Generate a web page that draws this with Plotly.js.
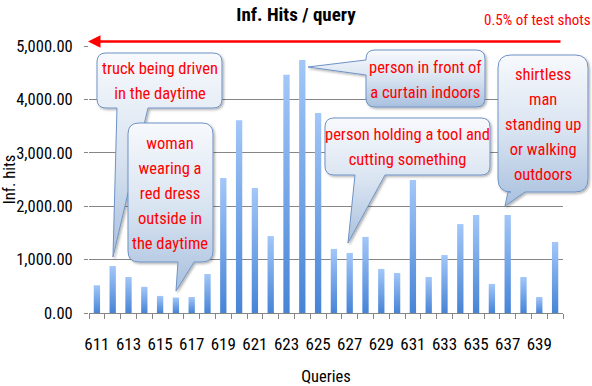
<!DOCTYPE html>
<html>
<head>
<meta charset="utf-8">
<script src="https://cdn.plot.ly/plotly-3.0.1.min.js"></script>
<style>
html,body{margin:0;padding:0;background:#fff;}
#chart{width:592px;height:386px;}
</style>
</head>
<body>
<div id="chart"></div>
<script>
// ---- data ----
const queries = [611,612,613,614,615,616,617,618,619,620,621,622,623,624,625,626,627,628,629,630,631,632,633,634,635,636,637,638,639,640];
const infHits = [520,880,675,490,320,290,300,730,2530,3610,2340,1440,4460,4740,3745,1200,1125,1425,825,750,2490,675,1085,1665,1835,545,1835,675,300,1330];
const xTickVals = [611,613,615,617,619,621,623,625,627,629,631,633,635,637,639];
const xTickText = ['611','613','615','617','619','621','623','625','627','629','631','633','635','637','639'];
const yTickVals = [0,1000,2000,3000,4000,5000];
const calloutTexts = [
  'truck being driven<br>in the daytime',
  'woman<br>wearing a<br>red dress<br>outside in<br>the daytime',
  'person in front of<br>a curtain indoors',
  'person holding a tool and<br>cutting something',
  'shirtless<br>man<br>standing up<br>or walking<br>outdoors'
];
const arrowLabel = '0.5% of test shots';

// ---- layout geometry (pixels) ----
const L = 89, R = 563, T = 46, B = 313;
const W = R - L, H = B - T;
const FONT = '"Roboto Condensed", "Open Sans", sans-serif';
const CALLOUT_SIZE = 16.5;
function px(x){ return (x - L) / W; }
function py(y){ return (B - y) / H; }
function pt(x, y){ return px(x).toFixed(5) + ',' + py(y).toFixed(5); }

function bubble(x0, y0, x1, y1, r, tail){
  let d = 'M' + pt(x0 + r, y0);
  d += ' L' + pt(x1 - r, y0) + ' Q' + pt(x1, y0) + ' ' + pt(x1, y0 + r);
  d += ' L' + pt(x1, y1 - r) + ' Q' + pt(x1, y1) + ' ' + pt(x1 - r, y1);
  if (tail.side === 'bottom'){
    d += ' L' + pt(tail.b, y1) + ' L' + pt(tail.tip[0], tail.tip[1]) + ' L' + pt(tail.a, y1);
  }
  d += ' L' + pt(x0 + r, y1) + ' Q' + pt(x0, y1) + ' ' + pt(x0, y1 - r);
  if (tail.side === 'left'){
    d += ' L' + pt(x0, tail.b) + ' L' + pt(tail.tip[0], tail.tip[1]) + ' L' + pt(x0, tail.a);
  }
  d += ' L' + pt(x0, y0 + r) + ' Q' + pt(x0, y0) + ' ' + pt(x0 + r, y0) + ' Z';
  return d;
}

const bubbles = [
  {box:[97,53,222,108,9],  tail:{side:'bottom', a:117, b:148, tip:[113,257]}, c:[160,81]},
  {box:[128,123,213,262,11], tail:{side:'bottom', a:178, b:194, tip:[176,291]}, c:[170,193]},
  {box:[366,50,485,107,9], tail:{side:'left', a:60, b:75, tip:[308,67]}, c:[425,80]},
  {box:[325,118,490,175,9], tail:{side:'bottom', a:355, b:385, tip:[348,243]}, c:[407,147]},
  {box:[498,55,588,192,13], tail:{side:'bottom', a:508, b:525, tip:[505,206]}, c:[543,124]}
];

const shapes = bubbles.map(b => ({
  type:'path', xref:'paper', yref:'paper', layer:'above',
  path: bubble(b.box[0], b.box[1], b.box[2], b.box[3], b.box[4], b.tail),
  fillcolor:'#c9d8eb', line:{color:'#6f93c5', width:1}
}));

const annotations = bubbles.map((b, i) => ({
  xref:'paper', yref:'paper', x:px(b.c[0]), y:py(b.c[1]),
  xanchor:'center', yanchor:'middle', showarrow:false, align:'center',
  text: calloutTexts[i], font:{family:FONT, size:CALLOUT_SIZE, color:'#ff0000'}
}));

// red arrow
annotations.push({
  xref:'paper', yref:'paper', x:px(88), y:py(41.5), text:'',
  showarrow:true, ax:(562-88), ay:0, arrowhead:2, arrowsize:1, arrowwidth:2.5,
  arrowcolor:'#ff0000', standoff:0, startstandoff:0
});
annotations.push({
  xref:'paper', yref:'paper', x:px(537), y:py(20), xanchor:'center', yanchor:'middle',
  showarrow:false, text:arrowLabel, font:{family:FONT, size:15, color:'#ff0000'}
});

const trace = {
  type:'bar', x:queries, y:infHits,
  marker:{color:'#6fa0e6', line:{width:0}},
  hoverinfo:'x+y'
};

const layout = {
  width:592, height:386,
  margin:{l:L, r:592-R, t:T, b:386-B, pad:0},
  paper_bgcolor:'#ffffff', plot_bgcolor:'#ffffff',
  font:{family:FONT, size:16, color:'#000000'},
  showlegend:false,
  bargap:0.6,
  title:{text:'<b>Inf. Hits / query</b>', x:0.5, xref:'container', xanchor:'center',
         y:1 - 14/386, yref:'container', yanchor:'middle',
         font:{family:FONT, size:19, color:'#000000'}},
  xaxis:{
    type:'linear', range:[610.5, 640.5], fixedrange:true,
    tickmode:'array', tickvals:xTickVals, ticktext:xTickText,
    ticks:'', showgrid:false, zeroline:false,
    showline:true, linecolor:'#868686', linewidth:1,
    tickfont:{family:FONT, size:17, color:'#000000'},
    ticklabelstandoff:16,
    minor:{tick0:610.5, dtick:1, ticks:'outside', ticklen:5, tickcolor:'#868686', tickwidth:1, showgrid:false},
    title:{text:'Queries', font:{family:FONT, size:16.5, color:'#000000'}, standoff:20}
  },
  yaxis:{
    range:[0,5000], fixedrange:true,
    tickmode:'array', tickvals:yTickVals, tickformat:',.2f',
    ticks:'outside', ticklen:4, tickcolor:'#868686',
    showgrid:true, gridcolor:'#868686', gridwidth:1,
    zeroline:false, showline:false,
    tickfont:{family:FONT, size:16.5, color:'#000000'},
    ticklabelstandoff:8,
    title:{text:'Inf. hits', font:{family:FONT, size:16.5, color:'#000000'}, standoff:8}
  },
  shapes:shapes,
  annotations:annotations
};

Plotly.newPlot('chart', [trace], layout, {staticPlot:true, displayModeBar:false}).then(gd => {
  const svgNS = 'http://www.w3.org/2000/svg';
  const svg = gd.querySelector('svg.main-svg');
  let defs = svg.querySelector('defs');
  if (!defs){ defs = document.createElementNS(svgNS,'defs'); svg.insertBefore(defs, svg.firstChild); }
  function grad(id, stops){
    const g = document.createElementNS(svgNS,'linearGradient');
    g.setAttribute('id', id);
    g.setAttribute('x1','0'); g.setAttribute('y1','0'); g.setAttribute('x2','0'); g.setAttribute('y2','1');
    stops.forEach(s => {
      const st = document.createElementNS(svgNS,'stop');
      st.setAttribute('offset', s[0]); st.setAttribute('stop-color', s[1]);
      g.appendChild(st);
    });
    defs.appendChild(g);
  }
  grad('barGrad', [['0','#a3c7f8'],['1','#4784d6']]);
  grad('bubbleGrad', [['0','#f7f9fc'],['0.5','#d9e4f1'],['1','#a9c0de']]);
  const f = document.createElementNS(svgNS,'filter');
  f.setAttribute('id','bubbleShadow');
  f.setAttribute('x','-10%'); f.setAttribute('y','-10%'); f.setAttribute('width','130%'); f.setAttribute('height','130%');
  const ds = document.createElementNS(svgNS,'feDropShadow');
  ds.setAttribute('dx','1.5'); ds.setAttribute('dy','1.5'); ds.setAttribute('stdDeviation','1.2');
  ds.setAttribute('flood-color','#000'); ds.setAttribute('flood-opacity','0.3');
  f.appendChild(ds); defs.appendChild(f);
  gd.querySelectorAll('.trace.bars .point path').forEach(p => { p.style.fill = 'url(#barGrad)'; });
  gd.querySelectorAll('.shapelayer path').forEach(p => {
    p.style.fill = 'url(#bubbleGrad)';
    p.setAttribute('filter','url(#bubbleShadow)');
  });
  // widen callout line spacing to match the reference (~25px per line)
  const LS = 25 / CALLOUT_SIZE;
  gd.querySelectorAll('.infolayer text.annotation-text').forEach(t => {
    const lines = t.querySelectorAll('tspan.line');
    const n = lines.length;
    if (n > 1){
      lines.forEach((ln, i) => {
        ln.setAttribute('dy', (i * LS - (n - 1) * (LS - 1.3) / 2).toFixed(4) + 'em');
      });
    }
  });
});
</script>
</body>
</html>
